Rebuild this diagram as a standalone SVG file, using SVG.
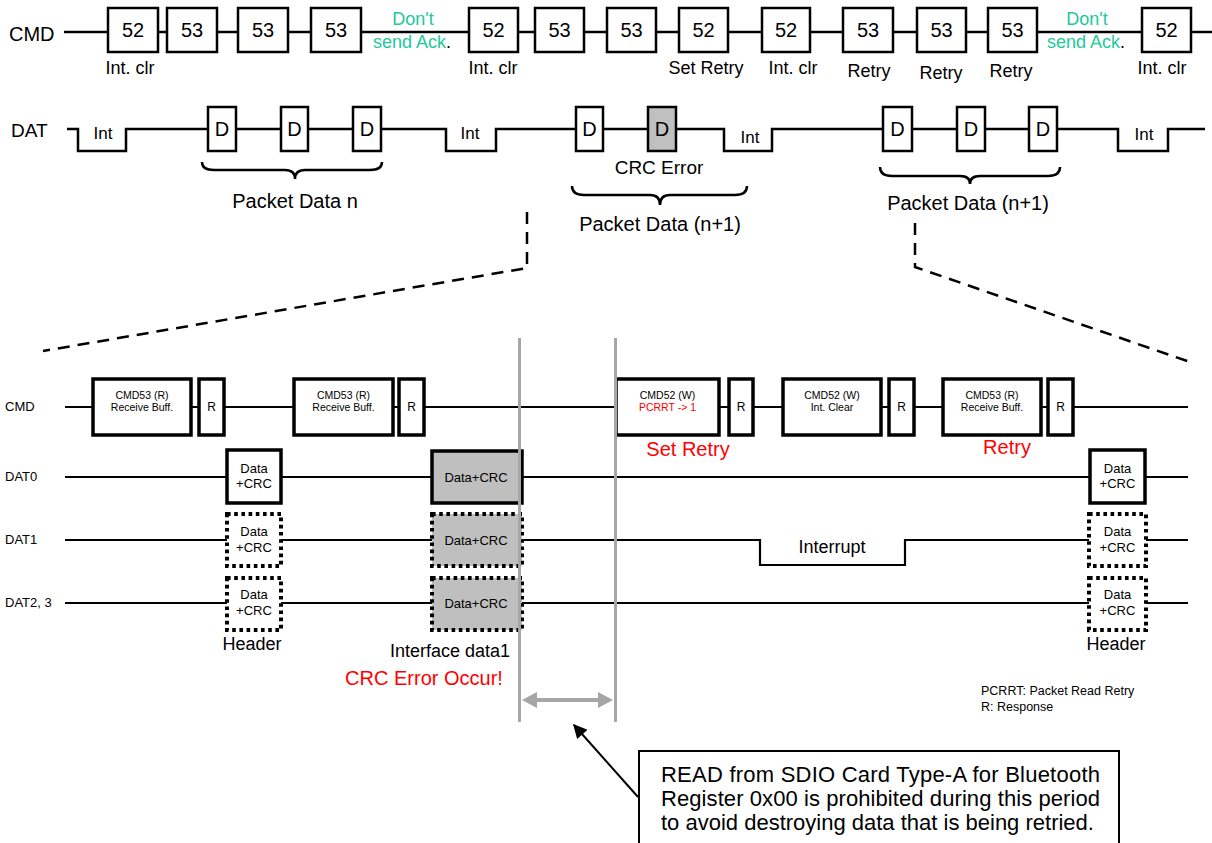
<svg xmlns="http://www.w3.org/2000/svg" width="1212" height="843" viewBox="0 0 1212 843">
<defs>
<style>
text{font-family:"Liberation Sans",Arial,Helvetica,sans-serif;fill:#000}
.c{text-anchor:middle}
.bx{fill:#fff;stroke:#000;stroke-width:2.5}
.gbx{fill:#c0c0c0;stroke:#000;stroke-width:2.5}
.ln{fill:none;stroke:#000;stroke-width:2.5}
.ln2{fill:none;stroke:#000;stroke-width:2.2}
.bb{fill:#fff;stroke:#000;stroke-width:3.5}
.bg{fill:#bfbfbf;stroke:#000;stroke-width:3.5}
.dot{fill:#fff;stroke:#000;stroke-width:4;stroke-dasharray:3.6 3.6}
.dotg{fill:#bfbfbf;stroke:#000;stroke-width:4;stroke-dasharray:3.6 3.6}
.dash{fill:none;stroke:#000;stroke-width:2.5;stroke-dasharray:12 8}
.gray{fill:none;stroke:#a6a6a6;stroke-width:3}
.num{font-size:20px}
.lab{font-size:18px}
.grn{font-size:18px;fill:#1ec99a}
.big{font-size:20px}
.sm{font-size:10.5px}
.sr{font-size:12px}
.dc{font-size:13px}
.red{fill:#ff0000}
.note{font-size:22px}
</style>
<marker id="ah" viewBox="0 0 10 10" refX="9" refY="5" markerWidth="8" markerHeight="7" orient="auto-start-reverse" markerUnits="strokeWidth">
<path d="M0,0 L10,5 L0,10 z" fill="#000"/>
</marker>
</defs>
<rect width="1212" height="843" fill="#fff"/>

<!-- connectors -->
<g id="connectors">
<path class="ln" d="M64,32 H1212"/>
<path class="ln" d="M67,129 H78 V151 H126 V129 H446 V151 H496 V129 H724 V151 H772 V129 H1118 V151 H1168 V129 H1205"/>
<path class="ln" d="M202,162 Q202,170 214,170 L285,170 Q295,170 295,179 Q295,170 305,170 L370,170 Q382,170 382,162"/>
<path class="ln" d="M572,186 Q572,195 584,195 L650,195 Q660,195 660,205 Q660,195 670,195 L735,195 Q747,195 747,186"/>
<path class="ln" d="M880,167 Q880,176 892,176 L960,176 Q970,176 970,184 Q970,176 980,176 L1048,176 Q1060,176 1060,167"/>
<path class="dash" d="M527,212 V268 L43,351"/>
<path class="dash" d="M915,223 V267 L1190,362"/>
<path class="ln2" d="M65,407 H1188"/>
<path class="ln2" d="M65,477 H1188"/>
<path class="ln2" d="M65,540 H760 V565 H905 V540 H1188"/>
<path class="ln2" d="M65,603 H1188"/>
<path d="M638,797 L574,725" fill="none" stroke="#000" stroke-width="2" marker-end="url(#ah)"/>
</g>

<!-- top labels -->
<g id="top-labels">
<text x="9" y="41" style="font-size:20px">CMD</text>
<text x="11" y="137" style="font-size:19px">DAT</text>
<text class="c grn" x="413" y="25">Don't</text>
<text class="c grn" x="412" y="48">send Ack<tspan fill="#000">.</tspan></text>
<text class="c grn" x="1087" y="25">Don't</text>
<text class="c grn" x="1086" y="48">send Ack<tspan fill="#000">.</tspan></text>
<text class="c lab" x="130" y="74">Int. clr</text>
<text class="c lab" x="493" y="74">Int. clr</text>
<text class="c lab" x="706" y="74">Set Retry</text>
<text class="c lab" x="793" y="74">Int. clr</text>
<text class="c lab" x="869" y="77">Retry</text>
<text class="c lab" x="941" y="79">Retry</text>
<text class="c lab" x="1011" y="77">Retry</text>
<text class="c lab" x="1162" y="74">Int. clr</text>
<text class="c" x="103" y="139" style="font-size:17px">Int</text>
<text class="c" x="470" y="139" style="font-size:17px">Int</text>
<text class="c" x="750" y="143" style="font-size:17px">Int</text>
<text class="c" x="1144" y="140" style="font-size:17px">Int</text>
<text class="c big" x="295" y="208">Packet Data n</text>
<text class="c" x="659" y="174" style="font-size:19px">CRC Error</text>
<text class="c big" x="660" y="231">Packet Data (n+1)</text>
<text class="c big" x="968" y="210">Packet Data (n+1)</text>
</g>

<!-- top CMD boxes -->
<g id="cmd1"><rect class="bx" x="108" y="8" width="50" height="44"/><text class="c num" x="133" y="37">52</text></g>
<g id="cmd2"><rect class="bx" x="167" y="8" width="50" height="44"/><text class="c num" x="192" y="37">53</text></g>
<g id="cmd3"><rect class="bx" x="238" y="8" width="50" height="44"/><text class="c num" x="263" y="37">53</text></g>
<g id="cmd4"><rect class="bx" x="311" y="8" width="50" height="44"/><text class="c num" x="336" y="37">53</text></g>
<g id="cmd5"><rect class="bx" x="469" y="8" width="49" height="44"/><text class="c num" x="493.5" y="37">52</text></g>
<g id="cmd6"><rect class="bx" x="535" y="8" width="49" height="44"/><text class="c num" x="559.5" y="37">53</text></g>
<g id="cmd7"><rect class="bx" x="607" y="8" width="49" height="44"/><text class="c num" x="631.5" y="37">53</text></g>
<g id="cmd8"><rect class="bx" x="679" y="8" width="49" height="44"/><text class="c num" x="703.5" y="37">52</text></g>
<g id="cmd9"><rect class="bx" x="762" y="8" width="48" height="44"/><text class="c num" x="786" y="37">52</text></g>
<g id="cmd10"><rect class="bx" x="843" y="8" width="50" height="44"/><text class="c num" x="868" y="37">53</text></g>
<g id="cmd11"><rect class="bx" x="917" y="8" width="49" height="44"/><text class="c num" x="941.5" y="37">53</text></g>
<g id="cmd12"><rect class="bx" x="988" y="8" width="49" height="44"/><text class="c num" x="1012.5" y="37">53</text></g>
<g id="cmd13"><rect class="bx" x="1142" y="8" width="49" height="44"/><text class="c num" x="1166.5" y="37">52</text></g>

<!-- top DAT boxes -->
<g id="d1"><rect class="bx" x="208" y="107" width="28" height="44"/><text class="c num" x="222" y="136">D</text></g>
<g id="d2"><rect class="bx" x="281" y="107" width="27" height="44"/><text class="c num" x="294.5" y="136">D</text></g>
<g id="d3"><rect class="bx" x="353" y="107" width="28" height="44"/><text class="c num" x="367" y="136">D</text></g>
<g id="d4"><rect class="bx" x="576" y="107" width="27" height="44"/><text class="c num" x="589.5" y="136">D</text></g>
<g id="d5"><rect class="gbx" x="648" y="107" width="28" height="44"/><text class="c num" x="662" y="136">D</text></g>
<g id="d6"><rect class="bx" x="883" y="107" width="29" height="44"/><text class="c num" x="897.5" y="136">D</text></g>
<g id="d7"><rect class="bx" x="957" y="107" width="28" height="44"/><text class="c num" x="971" y="136">D</text></g>
<g id="d8"><rect class="bx" x="1029" y="107" width="28" height="44"/><text class="c num" x="1043" y="136">D</text></g>

<!-- bottom labels -->
<g id="bottom-labels">
<text x="5" y="411" class="dc">CMD</text>
<text x="5" y="481" class="dc">DAT0</text>
<text x="5" y="544" class="dc">DAT1</text>
<text x="5" y="607" class="dc">DAT2, 3</text>
<text class="c big red" x="688" y="456">Set Retry</text>
<text class="c big red" x="1007" y="454">Retry</text>
<text class="c lab" x="832" y="553">Interrupt</text>
<text class="c lab" x="252" y="650">Header</text>
<text class="c lab" x="1116" y="650">Header</text>
<text class="c lab" x="450" y="657">Interface data1</text>
<text class="c red" x="424" y="685" style="font-size:20px">CRC Error Occur!</text>
<text x="981" y="695" style="font-size:12.5px">PCRRT: Packet Read Retry</text>
<text x="981" y="711" style="font-size:12.5px">R: Response</text>
</g>

<!-- bottom CMD boxes -->
<g id="b-cmd53-1"><rect class="bb" x="93" y="379" width="98" height="56"/><text class="c sm" x="142" y="399">CMD53 (R)</text><text class="c sm" x="142" y="411">Receive Buff.</text></g>
<g id="b-r1"><rect class="bb" x="199" y="379" width="25" height="56"/><text class="c sr" x="211.5" y="411">R</text></g>
<g id="b-cmd53-2"><rect class="bb" x="294" y="379" width="99" height="56"/><text class="c sm" x="343.5" y="399">CMD53 (R)</text><text class="c sm" x="343.5" y="411">Receive Buff.</text></g>
<g id="b-r2"><rect class="bb" x="399" y="379" width="25" height="56"/><text class="c sr" x="411.5" y="411">R</text></g>
<g id="b-cmd52-1"><rect class="bb" x="616" y="379" width="103" height="56"/><text class="c sm" x="667.5" y="399">CMD52 (W)</text><text class="c sm red" x="667.5" y="411">PCRRT -&gt; 1</text></g>
<g id="b-r3"><rect class="bb" x="729" y="379" width="24" height="56"/><text class="c sr" x="741" y="411">R</text></g>
<g id="b-cmd52-2"><rect class="bb" x="783" y="379" width="98" height="56"/><text class="c sm" x="832" y="399">CMD52 (W)</text><text class="c sm" x="832" y="411">Int. Clear</text></g>
<g id="b-r4"><rect class="bb" x="889" y="379" width="25" height="56"/><text class="c sr" x="901.5" y="411">R</text></g>
<g id="b-cmd53-3"><rect class="bb" x="943" y="379" width="98" height="56"/><text class="c sm" x="992" y="399">CMD53 (R)</text><text class="c sm" x="992" y="411">Receive Buff.</text></g>
<g id="b-r5"><rect class="bb" x="1048" y="379" width="25" height="56"/><text class="c sr" x="1060.5" y="411">R</text></g>

<!-- DAT0 boxes -->
<g id="dat0-1"><rect class="bb" x="227" y="450" width="54" height="53"/><text class="c dc" x="254" y="473">Data</text><text class="c dc" x="254" y="488">+CRC</text></g>
<g id="dat0-2"><rect class="bg" x="432" y="451" width="90" height="52"/><text class="c dc" x="476" y="482">Data+CRC</text></g>
<g id="dat0-3"><rect class="bb" x="1090" y="450" width="55" height="53"/><text class="c dc" x="1117.5" y="473">Data</text><text class="c dc" x="1117.5" y="488">+CRC</text></g>

<!-- DAT1 boxes -->
<g id="dat1-1"><rect class="dot" x="227" y="514" width="54" height="52"/><text class="c dc" x="254" y="536">Data</text><text class="c dc" x="254" y="552">+CRC</text></g>
<g id="dat1-2"><rect class="dotg" x="432" y="514" width="90" height="52"/><text class="c dc" x="476" y="545">Data+CRC</text></g>
<g id="dat1-3"><rect class="dot" x="1089" y="514" width="57" height="52"/><text class="c dc" x="1117.5" y="536">Data</text><text class="c dc" x="1117.5" y="552">+CRC</text></g>

<!-- DAT2,3 boxes -->
<g id="dat23-1"><rect class="dot" x="227" y="578" width="54" height="52"/><text class="c dc" x="254" y="599">Data</text><text class="c dc" x="254" y="615">+CRC</text></g>
<g id="dat23-2"><rect class="dotg" x="432" y="578" width="90" height="52"/><text class="c dc" x="476" y="608">Data+CRC</text></g>
<g id="dat23-3"><rect class="dot" x="1089" y="578" width="57" height="52"/><text class="c dc" x="1117.5" y="599">Data</text><text class="c dc" x="1117.5" y="615">+CRC</text></g>

<!-- gray period markers -->
<g id="period">
<line class="gray" x1="519.5" y1="338" x2="519.5" y2="722"/>
<line class="gray" x1="615.5" y1="338" x2="615.5" y2="722"/>
<line x1="534" y1="700" x2="601" y2="700" stroke="#a6a6a6" stroke-width="4"/>
<path d="M522,700 L537,692 L537,708 z" fill="#a6a6a6"/>
<path d="M613,700 L598,692 L598,708 z" fill="#a6a6a6"/>
</g>

<!-- callout -->
<g id="callout">
<rect x="639" y="751" width="480" height="100" fill="#fff" stroke="#000" stroke-width="2"/>
<text class="note" x="661" y="782" textLength="439" lengthAdjust="spacing">READ from SDIO Card Type-A for Bluetooth</text>
<text class="note" x="661" y="806" textLength="439" lengthAdjust="spacing">Register 0x00 is prohibited during this period</text>
<text class="note" x="661" y="830">to avoid destroying data that is being retried.</text>
</g>
</svg>
